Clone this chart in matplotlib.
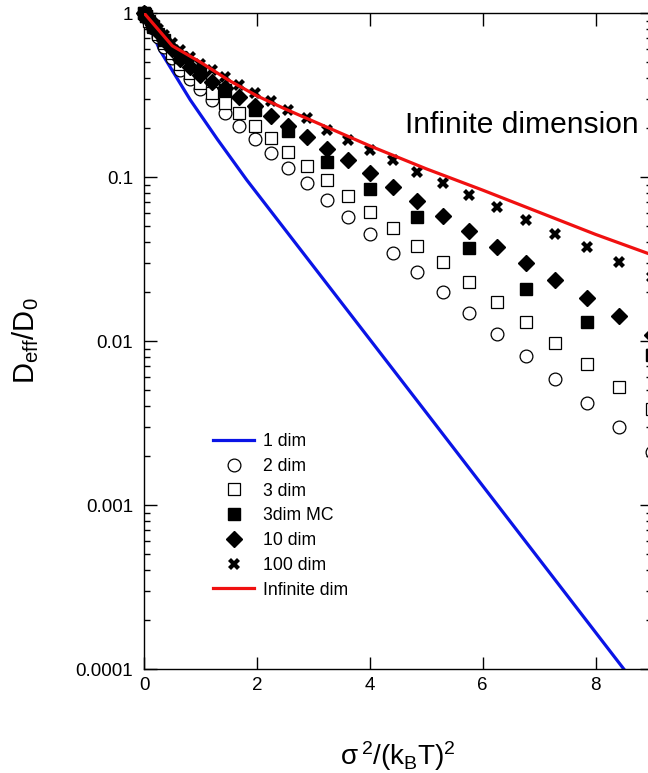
import numpy as np
import matplotlib
matplotlib.use("Agg")
import matplotlib.pyplot as plt

plt.rcParams['font.family'] = ['Liberation Sans', 'DejaVu Sans']
plt.rcParams['mathtext.fontset'] = 'custom'
plt.rcParams['mathtext.rm'] = 'Liberation Sans'
plt.rcParams['mathtext.it'] = 'Liberation Sans'

# x grid: sigma^2/(kB T)^2
sigma2 = [0, 0.01, 0.04, 0.09, 0.16, 0.25, 0.36, 0.49, 0.64, 0.81, 1.0,
          1.21, 1.44, 1.69, 1.96, 2.25, 2.56, 2.89, 3.24, 3.61, 4.0,
          4.41, 4.84, 5.29, 5.76, 6.25, 6.76, 7.29, 7.84, 8.41, 9.0]

# log10 values
log_2dim = [0, -0.006, -0.024, -0.053, -0.093, -0.145, -0.205, -0.275, -0.348, -0.404, -0.465,
            -0.530, -0.608, -0.689, -0.770, -0.852, -0.943, -1.038, -1.140, -1.242, -1.348,
            -1.465, -1.580, -1.703, -1.831, -1.955, -2.091, -2.234, -2.376, -2.523, -2.675]
log_3dim = [0, -0.005, -0.021, -0.048, -0.084, -0.130, -0.184, -0.245, -0.310, -0.365, -0.425,
            -0.486, -0.551, -0.612, -0.689, -0.764, -0.846, -0.933, -1.018, -1.116, -1.211,
            -1.313, -1.419, -1.520, -1.640, -1.760, -1.886, -2.010, -2.140, -2.279, -2.417]
sigma2_mc = [0, 0.04, 0.16, 0.36, 0.64, 1.0, 1.44, 1.96, 2.56, 3.24, 4.0, 4.84, 5.76, 6.76, 7.84, 9.0]
log_3dim_mc = [0, -0.02, -0.08, -0.165, -0.27, -0.36, -0.47, -0.591, -0.72, -0.91, -1.075,
               -1.242, -1.433, -1.685, -1.882, -2.085]
log_10dim = [0, -0.005, -0.019, -0.043, -0.075, -0.117, -0.166, -0.222, -0.280, -0.330, -0.378,
             -0.419, -0.460, -0.510, -0.570, -0.627, -0.690, -0.757, -0.828, -0.896, -0.977,
             -1.059, -1.145, -1.238, -1.328, -1.429, -1.526, -1.628, -1.736, -1.848, -1.963]
log_100dim = [0, -0.004, -0.016, -0.036, -0.063, -0.097, -0.136, -0.180, -0.226, -0.268, -0.310,
              -0.348, -0.388, -0.439, -0.486, -0.535, -0.591, -0.642, -0.713, -0.774, -0.835,
              -0.896, -0.968, -1.038, -1.110, -1.185, -1.262, -1.348, -1.429, -1.520, -1.608]

x_1dim = [0, 0.1, 0.28, 0.5, 0.82, 1.3, 1.82, 3.0, 5.0, 8.5]
log_1dim = [0, -0.085, -0.226, -0.35, -0.53, -0.77, -1.018, -1.544, -2.436, -4.0]

x_inf = [0, 0.25, 0.5, 1.0, 1.5, 2.0, 2.5, 3.0, 3.5, 4.0, 5.0, 6.0, 7.0, 8.0, 9.0]
log_inf = [0, -0.10, -0.20, -0.30, -0.41, -0.505, -0.585, -0.66, -0.735, -0.81, -0.95,
           -1.08, -1.215, -1.35, -1.475]

labels = ['1 dim', '2 dim', '3 dim', '3dim MC', '10 dim', '100 dim', 'Infinite dim']

fig = plt.figure(figsize=(6.48, 7.73), dpi=100)
ax = fig.add_axes([144/648, (773-669)/773, (652-144)/648, (669-13)/773])

p = lambda l: np.power(10.0, np.array(l))

ax.plot(x_1dim, p(log_1dim), color='#0a14e6', lw=2.3, label=labels[0], zorder=2)
ax.plot(sigma2, p(log_2dim), 'o', ms=9.2, mfc='white', mec='black', mew=0.9,
        label=labels[1], clip_on=False, zorder=3)
ax.plot(sigma2, p(log_3dim), 's', ms=8.6, mfc='white', mec='black', mew=0.9,
        label=labels[2], clip_on=False, zorder=3)
ax.plot(sigma2_mc, p(log_3dim_mc), 's', ms=9.0, color='black',
        label=labels[3], clip_on=False, zorder=4)
ax.plot(sigma2, p(log_10dim), 'D', ms=8.6, color='black',
        label=labels[4], clip_on=False, zorder=4)
ax.plot(sigma2, p(log_100dim), 'X', ms=8.5, color='black', mew=0,
        label=labels[5], clip_on=False, zorder=4)
ax.plot(x_inf, p(log_inf), color='#f01010', lw=2.3, label=labels[6], zorder=5)

ax.set_yscale('log')
ax.set_xlim(0, 9)
ax.set_ylim(1e-4, 1)
ax.set_xticks([0, 2, 4, 6, 8])
ax.set_yticks([1e-4, 1e-3, 1e-2, 1e-1, 1])
ax.set_yticklabels(['0.0001', '0.001', '0.01', '0.1', '1'])
ax.tick_params(which='major', direction='in', length=9, width=1.0, top=True, right=True,
               labelsize=13.5)
ax.tick_params(axis='y', which='major', pad=8)
ax.tick_params(axis='x', which='major', pad=6)
ax.tick_params(which='minor', direction='in', length=4.5, width=1.0, right=True)
for s in ax.spines.values():
    s.set_linewidth(1.0)

ax.set_ylabel(r'D$_{\rm eff}$/D$_0$', fontsize=21, labelpad=25)
ax.set_xlabel(r'$\sigma^{\,2}$/(k$_{\rm B}$T)$^2$', fontsize=20, labelpad=32)

ax.text(405/648, (773-125)/773, 'Infinite dimension', transform=fig.transFigure,
        fontsize=21.6, ha='left', va='center')

leg = ax.legend(loc='upper left', bbox_to_anchor=(213/648, (773-433)/773),
                bbox_transform=fig.transFigure, frameon=False, fontsize=12.7,
                handlelength=2.35, handletextpad=0.5, labelspacing=0.44,
                borderpad=0, borderaxespad=0, numpoints=1)

fig.savefig('out.png', dpi=100)
